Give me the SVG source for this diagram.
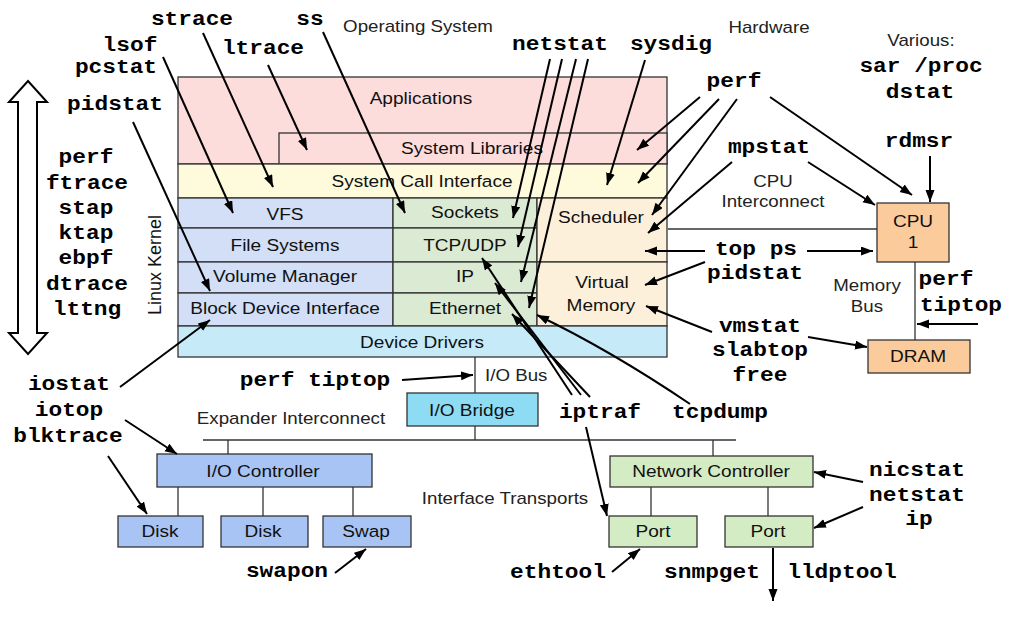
<svg xmlns="http://www.w3.org/2000/svg" width="1012" height="617" viewBox="0 0 1012 617">
<defs>
<marker id="ah" markerWidth="13" markerHeight="10" refX="12" refY="4.5" orient="auto" markerUnits="userSpaceOnUse">
<path d="M0,0 L12,4.5 L0,9 z" fill="#000"/>
</marker>
<style>
.box{stroke:#333;stroke-width:1.3}
.app{fill:#FDDCDC}
.sci{fill:#FEFADC}
.fs{fill:#D2DFF7}
.net{fill:#DAEAD3}
.sch{fill:#FDF0DB}
.dd{fill:#C6EAF8}
.iob{fill:#8EDCF4}
.ioc{fill:#A8C4F4}
.nc{fill:#D4ECC3}
.cpu{fill:#FBCB9B}
.l{font-family:"Liberation Sans",Arial,sans-serif;font-size:16.3px;text-anchor:middle;fill:#111}
.h{font-family:"Liberation Sans",Arial,sans-serif;font-size:16px;text-anchor:middle;fill:#222}
.t{font-family:"Liberation Mono","Courier New",monospace;font-weight:bold;font-size:19.5px;text-anchor:middle;fill:#000}
.c line,.c path{stroke:#000;stroke-width:2;fill:none}
.a{marker-end:url(#ah)}
.p line{stroke:#333;stroke-width:1.3}
</style>
</defs>
<rect width="1012" height="617" fill="#fff"/>

<!-- kernel / OS stack -->
<g id="applications"><rect class="box app" x="178" y="77" width="489" height="87"/><text class="l" transform="translate(421 104) scale(1.17 1)">Applications</text></g>
<g id="system-libraries"><rect class="box app" x="279" y="133" width="388" height="31"/><text class="l" transform="translate(472 154) scale(1.17 1)">System Libraries</text></g>
<g id="system-call-interface"><rect class="box sci" x="178" y="164" width="489" height="34"/><text class="l" transform="translate(422 187) scale(1.17 1)">System Call Interface</text></g>
<g id="vfs"><rect class="box fs" x="178" y="198" width="215" height="30"/><text class="l" transform="translate(285 220) scale(1.17 1)">VFS</text></g>
<g id="file-systems"><rect class="box fs" x="178" y="228" width="215" height="34"/><text class="l" transform="translate(285 251) scale(1.17 1)">File Systems</text></g>
<g id="volume-manager"><rect class="box fs" x="178" y="262" width="215" height="31"/><text class="l" transform="translate(285 282) scale(1.17 1)">Volume Manager</text></g>
<g id="block-device-interface"><rect class="box fs" x="178" y="293" width="215" height="33"/><text class="l" transform="translate(285 314) scale(1.17 1)">Block Device Interface</text></g>
<g id="sockets"><rect class="box net" x="393" y="198" width="144" height="30"/><text class="l" transform="translate(465 218) scale(1.17 1)">Sockets</text></g>
<g id="tcp-udp"><rect class="box net" x="393" y="228" width="144" height="34"/><text class="l" transform="translate(465 251) scale(1.17 1)">TCP/UDP</text></g>
<g id="ip"><rect class="box net" x="393" y="262" width="144" height="31"/><text class="l" transform="translate(465 282) scale(1.17 1)">IP</text></g>
<g id="ethernet"><rect class="box net" x="393" y="293" width="144" height="33"/><text class="l" transform="translate(465 314) scale(1.17 1)">Ethernet</text></g>
<g id="scheduler"><rect class="box sch" x="537" y="198" width="130" height="64"/><text class="l" transform="translate(601 223) scale(1.17 1)">Scheduler</text></g>
<g id="virtual-memory"><rect class="box sch" x="537" y="262" width="130" height="64"/><text class="l" transform="translate(602 288) scale(1.17 1)">Virtual</text><text class="l" transform="translate(601 311) scale(1.17 1)">Memory</text></g>
<g id="device-drivers"><rect class="box dd" x="178" y="326" width="489" height="31"/><text class="l" transform="translate(422 348) scale(1.17 1)">Device Drivers</text></g>
<g id="linux-kernel-label"><text class="l" style="font-size:18px" transform="translate(161 265) rotate(-90)">Linux Kernel</text></g>

<!-- hardware -->
<g id="io-bridge"><rect class="box iob" x="407" y="393" width="131" height="33"/><text class="l" transform="translate(472 416) scale(1.17 1)">I/O Bridge</text></g>
<g id="io-controller"><rect class="box ioc" x="157" y="454" width="215" height="33"/><text class="l" transform="translate(263 477) scale(1.17 1)">I/O Controller</text></g>
<g id="disk1"><rect class="box ioc" x="118" y="516" width="85" height="31"/><text class="l" transform="translate(160 537) scale(1.17 1)">Disk</text></g>
<g id="disk2"><rect class="box ioc" x="221" y="516" width="87" height="31"/><text class="l" transform="translate(263 537) scale(1.17 1)">Disk</text></g>
<g id="swap"><rect class="box ioc" x="323" y="516" width="88" height="31"/><text class="l" transform="translate(366 537) scale(1.17 1)">Swap</text></g>
<g id="network-controller"><rect class="box nc" x="610" y="456" width="203" height="31"/><text class="l" transform="translate(711 477) scale(1.17 1)">Network Controller</text></g>
<g id="port1"><rect class="box nc" x="609" y="516" width="88" height="31"/><text class="l" transform="translate(653 537) scale(1.17 1)">Port</text></g>
<g id="port2"><rect class="box nc" x="725" y="516" width="88" height="31"/><text class="l" transform="translate(768 537) scale(1.17 1)">Port</text></g>
<g id="cpu"><rect class="box cpu" x="877" y="203" width="72" height="59"/><text class="l" transform="translate(913 227) scale(1.17 1)">CPU</text><text class="l" transform="translate(913 248) scale(1.17 1)">1</text></g>
<g id="dram"><rect class="box cpu" x="868" y="340" width="102" height="33"/><text class="l" transform="translate(918 362) scale(1.17 1)">DRAM</text></g>

<!-- headings -->
<g id="headings">
<text class="h" transform="translate(418 32) scale(1.17 1)">Operating System</text>
<text class="h" transform="translate(769 33) scale(1.17 1)">Hardware</text>
<text class="h" transform="translate(921 46) scale(1.17 1)">Various:</text>
<text class="h" transform="translate(773 187) scale(1.17 1)">CPU</text>
<text class="h" transform="translate(773 207) scale(1.17 1)">Interconnect</text>
<text class="h" transform="translate(867 291) scale(1.17 1)">Memory</text>
<text class="h" transform="translate(867 312) scale(1.17 1)">Bus</text>
<text class="h" style="text-anchor:start" transform="translate(485 381) scale(1.17 1)">I/O Bus</text>
<text class="h" transform="translate(291 424) scale(1.17 1)">Expander Interconnect</text>
<text class="h" transform="translate(505 504) scale(1.17 1)">Interface Transports</text>
</g>

<!-- tool labels -->
<g id="tool-strace"><text class="t" transform="translate(192 25) scale(1.17 1)">strace</text></g>
<g id="tool-ss"><text class="t" transform="translate(310 25) scale(1.17 1)">ss</text></g>
<g id="tool-lsof"><text class="t" transform="translate(130 51) scale(1.17 1)">lsof</text></g>
<g id="tool-ltrace"><text class="t" transform="translate(263 54) scale(1.17 1)">ltrace</text></g>
<g id="tool-pcstat"><text class="t" transform="translate(116 73) scale(1.17 1)">pcstat</text></g>
<g id="tool-pidstat-left"><text class="t" transform="translate(115 110) scale(1.17 1)">pidstat</text></g>
<g id="tool-tracers">
<text class="t" transform="translate(86 163) scale(1.17 1)">perf</text>
<text class="t" transform="translate(87 189) scale(1.17 1)">ftrace</text>
<text class="t" transform="translate(86 214) scale(1.17 1)">stap</text>
<text class="t" transform="translate(86 239) scale(1.17 1)">ktap</text>
<text class="t" transform="translate(86 264) scale(1.17 1)">ebpf</text>
<text class="t" transform="translate(87 290) scale(1.17 1)">dtrace</text>
<text class="t" transform="translate(87 315) scale(1.17 1)">lttng</text>
</g>
<g id="tool-netstat-top"><text class="t" transform="translate(560 50) scale(1.17 1)">netstat</text></g>
<g id="tool-sysdig"><text class="t" transform="translate(671 50) scale(1.17 1)">sysdig</text></g>
<g id="tool-perf-top"><text class="t" transform="translate(734 87) scale(1.17 1)">perf</text></g>
<g id="tool-various"><text class="t" transform="translate(921 72) scale(1.17 1)">sar /proc</text><text class="t" transform="translate(920 98) scale(1.17 1)">dstat</text></g>
<g id="tool-rdmsr"><text class="t" transform="translate(919 147) scale(1.17 1)">rdmsr</text></g>
<g id="tool-mpstat"><text class="t" transform="translate(769 153) scale(1.17 1)">mpstat</text></g>
<g id="tool-top-ps"><text class="t" transform="translate(756 255) scale(1.17 1)">top ps</text><text class="t" transform="translate(755 279) scale(1.17 1)">pidstat</text></g>
<g id="tool-perf-tiptop-right"><text class="t" transform="translate(946 285) scale(1.17 1)">perf</text><text class="t" transform="translate(961 311) scale(1.17 1)">tiptop</text></g>
<g id="tool-vmstat"><text class="t" transform="translate(760 332) scale(1.17 1)">vmstat</text><text class="t" transform="translate(760 356) scale(1.17 1)">slabtop</text><text class="t" transform="translate(760 381) scale(1.17 1)">free</text></g>
<g id="tool-iostat"><text class="t" transform="translate(69 390) scale(1.17 1)">iostat</text><text class="t" transform="translate(69 416) scale(1.17 1)">iotop</text><text class="t" transform="translate(68 442) scale(1.17 1)">blktrace</text></g>
<g id="tool-perf-tiptop-bottom"><text class="t" transform="translate(315 386) scale(1.17 1)">perf tiptop</text></g>
<g id="tool-iptraf"><text class="t" transform="translate(600 418) scale(1.17 1)">iptraf</text></g>
<g id="tool-tcpdump"><text class="t" transform="translate(720 418) scale(1.17 1)">tcpdump</text></g>
<g id="tool-swapon"><text class="t" transform="translate(287 577) scale(1.17 1)">swapon</text></g>
<g id="tool-ethtool"><text class="t" transform="translate(558 578) scale(1.17 1)">ethtool</text></g>
<g id="tool-snmpget"><text class="t" transform="translate(712 578) scale(1.17 1)">snmpget</text></g>
<g id="tool-lldptool"><text class="t" transform="translate(842 578) scale(1.17 1)">lldptool</text></g>
<g id="tool-nicstat"><text class="t" transform="translate(917 476) scale(1.17 1)">nicstat</text><text class="t" transform="translate(917 501) scale(1.17 1)">netstat</text><text class="t" transform="translate(919 525) scale(1.17 1)">ip</text></g>

<!-- stack double arrow -->
<g id="stack-arrow"><polygon points="28,81 47,102 37,102 37,333 47,333 28,354 9,333 18,333 18,102 9,102" fill="#fff" stroke="#000" stroke-width="2"/></g>

<!-- plain bus lines -->
<g id="buses" class="p">
<line x1="475" y1="357" x2="475" y2="393"/>
<line x1="475" y1="426" x2="475" y2="440"/>
<line x1="203" y1="440" x2="736" y2="440"/>
<line x1="228" y1="440" x2="228" y2="454"/>
<line x1="178" y1="487" x2="178" y2="516"/>
<line x1="263" y1="487" x2="263" y2="516"/>
<line x1="353" y1="487" x2="353" y2="516"/>
<line x1="713" y1="440" x2="713" y2="456"/>
<line x1="651" y1="487" x2="651" y2="516"/>
<line x1="768" y1="487" x2="768" y2="516"/>
<line x1="668" y1="229" x2="877" y2="229"/>
<line x1="915" y1="262" x2="915" y2="340"/>
</g>

<!-- connectors -->
<g id="connectors" class="c">
<line class="a" x1="203" y1="33" x2="273" y2="187"/>
<line class="a" x1="163" y1="57" x2="233" y2="213"/>
<line class="a" x1="268" y1="65" x2="307" y2="150"/>
<line class="a" x1="323" y1="32" x2="405" y2="213"/>
<line class="a" x1="133" y1="122" x2="210" y2="291"/>
<line class="a" x1="550" y1="59" x2="513" y2="218"/>
<line class="a" x1="562" y1="59" x2="518" y2="247"/>
<line class="a" x1="576" y1="59" x2="521" y2="282"/>
<line class="a" x1="588" y1="59" x2="529" y2="308"/>
<line class="a" x1="645" y1="60" x2="607" y2="185"/>
<line class="a" x1="700" y1="97" x2="637" y2="150"/>
<line class="a" x1="719" y1="99" x2="638" y2="183"/>
<line class="a" x1="737" y1="99" x2="652" y2="215"/>
<line class="a" x1="770" y1="97" x2="912" y2="195"/>
<line class="a" x1="732" y1="162" x2="648" y2="233"/>
<line class="a" x1="808" y1="162" x2="875" y2="205"/>
<line class="a" x1="930" y1="156" x2="930" y2="202"/>
<line class="a" x1="807" y1="251" x2="873" y2="251"/>
<line class="a" x1="705" y1="251" x2="645" y2="251"/>
<line class="a" x1="705" y1="262" x2="645" y2="285"/>
<line class="a" x1="712" y1="332" x2="646" y2="306"/>
<line class="a" x1="808" y1="337" x2="867" y2="347"/>
<line class="a" x1="978" y1="324" x2="917" y2="324"/>
<line class="a" x1="120" y1="387" x2="210" y2="320"/>
<line class="a" x1="125" y1="420" x2="177" y2="454"/>
<line class="a" x1="108" y1="456" x2="147" y2="514"/>
<line class="a" x1="402" y1="380" x2="473" y2="375"/>
<line class="a" x1="572" y1="395" x2="482" y2="258"/>
<line class="a" x1="581" y1="395" x2="495" y2="283"/>
<line class="a" x1="590" y1="397" x2="512" y2="314"/>
<line class="a" x1="586" y1="427" x2="607" y2="516"/>
<path class="a" d="M690,404 Q610,350 537,315"/>
<line class="a" x1="335" y1="573" x2="366" y2="549"/>
<line class="a" x1="612" y1="572" x2="640" y2="549"/>
<line class="a" x1="863" y1="482" x2="814" y2="472"/>
<line class="a" x1="863" y1="507" x2="814" y2="528"/>
<line class="a" x1="773" y1="548" x2="773" y2="601"/>
</g>
</svg>
